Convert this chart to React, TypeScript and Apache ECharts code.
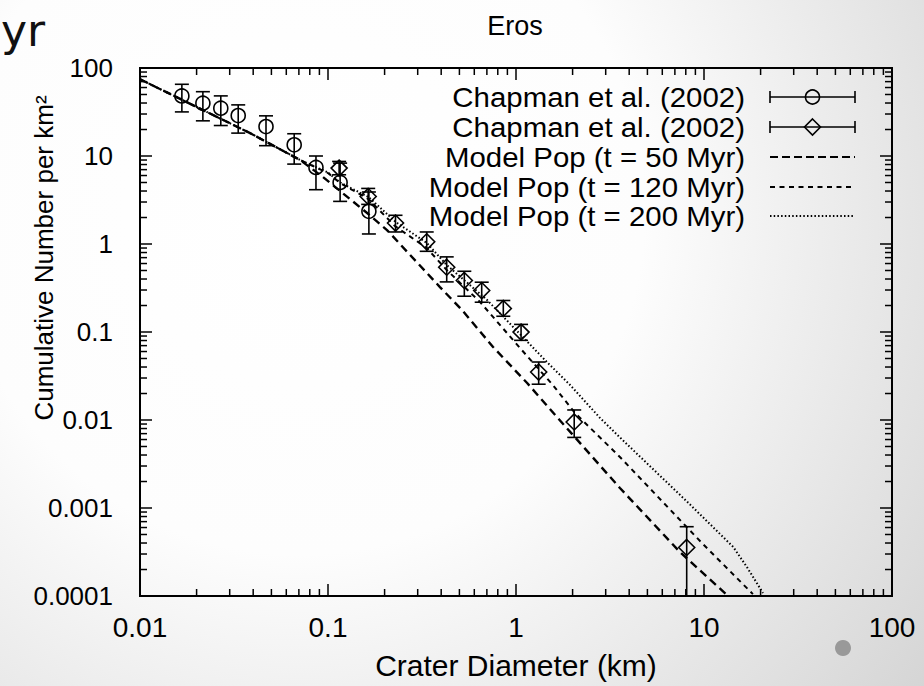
import { useEffect, useRef } from "react";
import * as echarts from "echarts";

// Axis ticks and labels
const xTickValues = [0.01, 0.1, 1, 10, 100];
const xTickLabels = ["0.01", "0.1", "1", "10", "100"];
const yTickValues = [0.0001, 0.001, 0.01, 0.1, 1, 10, 100];
const yTickLabels = ["0.0001", "0.001", "0.01", "0.1", "1", "10", "100"];
const minorMultipliers = [2, 3, 4, 5, 6, 7, 8, 9];

const titleText = "Eros";
const xAxisName = "Crater Diameter (km)";
const yAxisName = "Cumulative Number per km²";
const seriesNames = [
  "Chapman et al. (2002)",
  "Chapman et al. (2002)",
  "Model Pop (t = 50 Myr)",
  "Model Pop (t = 120 Myr)",
  "Model Pop (t = 200 Myr)",
];

// Chapman et al. (2002), small craters (circles)
const circleDiam = [0.0167, 0.0216, 0.0269, 0.0333, 0.0468, 0.0661, 0.0863, 0.116, 0.165];
const circleN = [48.2, 39.8, 34.9, 28.8, 21.6, 13.4, 7.41, 5.01, 2.35];
const circleLow = [31.7, 25.1, 22.2, 18.2, 13.1, 8.09, 4.14, 3.05, 1.3];
const circleHigh = [65.3, 53.8, 48.2, 38.1, 28.6, 17.9, 10.0, 8.3, 3.9];

// Chapman et al. (2002), larger craters (diamonds)
const diamondDiam = [0.1146, 0.1636, 0.2286, 0.335, 0.428, 0.531, 0.657, 0.856, 1.064, 1.32, 2.04, 8.09];
const diamondN = [7.29, 3.47, 1.73, 1.06, 0.545, 0.385, 0.296, 0.185, 0.0998, 0.0351, 0.0095, 0.000356];
const diamondLow = [6.12, 2.82, 1.37, 0.826, 0.371, 0.255, 0.218, 0.151, 0.0804, 0.0255, 0.00634, 0.0001];
const diamondHigh = [8.67, 4.28, 2.12, 1.37, 0.714, 0.49, 0.368, 0.228, 0.122, 0.0456, 0.013, 0.000613];

// Model populations
const model50Diam = [0.01, 0.0385, 0.071, 0.094, 0.116, 0.164, 0.206, 0.394, 0.516, 0.755, 1.146, 1.67, 3.57, 7.45, 13.1];
const model50N = [74.5, 18.2, 9.01, 5.77, 4.0, 2.19, 1.44, 0.324, 0.178, 0.0676, 0.0263, 0.01054, 0.001687, 0.000316, 0.000105];

const model120Diam = [0.01, 0.0385, 0.071, 0.1, 0.116, 0.164, 0.227, 0.335, 0.428, 0.644, 1.05, 1.57, 2.06, 3.57, 9.75, 18.2];
const model120N = [74.5, 18.2, 9.01, 6.4, 4.93, 3.24, 1.6, 0.9, 0.507, 0.219, 0.0658, 0.025, 0.012, 0.0038, 0.0004, 0.000105];

const model200Diam = [0.01, 0.0385, 0.071, 0.1, 0.116, 0.164, 0.229, 0.335, 0.428, 0.702, 1.46, 1.94, 2.8, 3.57, 8.13, 14.3, 16.9, 20.6];
const model200N = [74.5, 18.2, 9.01, 6.5, 5.0, 3.42, 1.78, 1.03, 0.577, 0.231, 0.0456, 0.025, 0.01054, 0.00634, 0.00118, 0.000361, 0.000214, 0.000108];

const X_MIN = 0.01;
const X_MAX = 100;
const Y_MIN = 0.0001;
const Y_MAX = 100;

const FONT = '"Liberation Sans", Arial, Helvetica, sans-serif';
const INK = "#000";

const labelFor = (values: number[], labels: string[]) => (v: number) => {
  const i = values.findIndex((t) => Math.abs(Math.log10(t) - Math.log10(v)) < 1e-6);
  return i >= 0 ? labels[i] : "";
};

export default function App() {
  const ref = useRef<HTMLDivElement>(null);

  useEffect(() => {
    if (!ref.current) return;
    const chart = echarts.init(ref.current, undefined, { renderer: "svg" });

    // tick rows: [x, y, axis (0 = x, 1 = y), major]
    const tickData: number[][] = [];
    xTickValues.forEach((v) => tickData.push([v, 1, 0, 1]));
    yTickValues.forEach((v) => tickData.push([1, v, 1, 1]));
    xTickValues.slice(0, -1).forEach((d) =>
      minorMultipliers.forEach((m) => tickData.push([d * m, 1, 0, 0]))
    );
    yTickValues.slice(0, -1).forEach((d) =>
      minorMultipliers.forEach((m) => tickData.push([1, d * m, 1, 0]))
    );

    const circleData = circleDiam.map((d, i) => [d, circleN[i], circleLow[i], circleHigh[i]]);
    const diamondData = diamondDiam.map((d, i) => [d, diamondN[i], diamondLow[i], diamondHigh[i]]);

    const strokeStyle = { stroke: INK, lineWidth: 1.6, fill: "none" };

    const errorBarRenderer = (shape: "circle" | "diamond") => (_p: any, api: any) => {
      const d = api.value(0);
      const c = api.coord([d, api.value(1)]);
      const lo = api.coord([d, api.value(2)]);
      const hi = api.coord([d, api.value(3)]);
      const cap = 7;
      const children: any[] = [
        { type: "line", shape: { x1: c[0], y1: lo[1], x2: c[0], y2: hi[1] }, style: strokeStyle },
        { type: "line", shape: { x1: c[0] - cap, y1: lo[1], x2: c[0] + cap, y2: lo[1] }, style: strokeStyle },
        { type: "line", shape: { x1: c[0] - cap, y1: hi[1], x2: c[0] + cap, y2: hi[1] }, style: strokeStyle },
      ];
      if (shape === "circle") {
        children.push({ type: "circle", shape: { cx: c[0], cy: c[1], r: 7 }, style: strokeStyle });
      } else {
        const s = 8;
        children.push({
          type: "polygon",
          shape: { points: [[c[0], c[1] - s], [c[0] + s, c[1]], [c[0], c[1] + s], [c[0] - s, c[1]]] },
          style: strokeStyle,
        });
      }
      return { type: "group", children };
    };

    const tickRenderer = (_p: any, api: any) => {
      const axis = api.value(2);
      const len = api.value(3) ? 12 : 7;
      const st = { stroke: INK, lineWidth: 1.5 };
      if (axis === 0) {
        const v = api.value(0);
        const b = api.coord([v, Y_MIN]);
        const t = api.coord([v, Y_MAX]);
        return {
          type: "group",
          children: [
            { type: "line", shape: { x1: b[0], y1: b[1], x2: b[0], y2: b[1] - len }, style: st },
            { type: "line", shape: { x1: t[0], y1: t[1], x2: t[0], y2: t[1] + len }, style: st },
          ],
        };
      }
      const v = api.value(1);
      const l = api.coord([X_MIN, v]);
      const r = api.coord([X_MAX, v]);
      return {
        type: "group",
        children: [
          { type: "line", shape: { x1: l[0], y1: l[1], x2: l[0] + len, y2: l[1] }, style: st },
          { type: "line", shape: { x1: r[0], y1: r[1], x2: r[0] - len, y2: r[1] }, style: st },
        ],
      };
    };

    const modelLine = (name: string, xs: number[], ys: number[], dash: number[], width: number) => ({
      name,
      type: "line",
      data: xs.map((x, i) => [x, ys[i]]),
      symbol: "none",
      smooth: false,
      lineStyle: { color: INK, width, type: dash },
      z: 3,
    });

    // legend, drawn at the top right of the plot
    const legendX = 745;
    const sampleL = 770;
    const sampleR = 855;
    const rowY = [97, 127, 157, 187, 216];
    const legendDash = [null, null, [8, 4], [5, 4.5], [1.5, 2.2]];
    const legendEls: any[] = [];
    seriesNames.forEach((name, i) => {
      const y = rowY[i];
      legendEls.push({
        type: "text",
        x: legendX,
        y,
        scaleX: 1.07,
        style: {
          text: name,
          font: `27.5px ${FONT}`,
          fill: INK,
          textAlign: "right",
          align: "right",
          textVerticalAlign: "middle",
          verticalAlign: "middle",
        },
      });
      if (i < 2) {
        legendEls.push(
          { type: "line", shape: { x1: sampleL, y1: y, x2: sampleR, y2: y }, style: strokeStyle },
          { type: "line", shape: { x1: sampleL, y1: y - 6, x2: sampleL, y2: y + 6 }, style: strokeStyle },
          { type: "line", shape: { x1: sampleR, y1: y - 6, x2: sampleR, y2: y + 6 }, style: strokeStyle }
        );
        const cx = (sampleL + sampleR) / 2;
        if (i === 0) {
          legendEls.push({ type: "circle", shape: { cx, cy: y, r: 7 }, style: strokeStyle });
        } else {
          legendEls.push({
            type: "polygon",
            shape: { points: [[cx, y - 8], [cx + 8, y], [cx, y + 8], [cx - 8, y]] },
            style: strokeStyle,
          });
        }
      } else {
        legendEls.push({
          type: "line",
          shape: { x1: sampleL, y1: y, x2: sampleR, y2: y },
          style: { stroke: INK, lineWidth: i === 2 ? 2.2 : 1.8, lineDash: legendDash[i] },
        });
      }
    });

    chart.setOption({
      animation: false,
      backgroundColor: new echarts.graphic.RadialGradient(
        300,
        210,
        820,
        [
          { offset: 0, color: "#ffffff" },
          { offset: 0.42, color: "#fdfdfd" },
          { offset: 1, color: "#d2d2d2" },
        ],
        true
      ),
      textStyle: { fontFamily: FONT, color: INK },
      title: {
        text: titleText,
        left: 510,
        top: 7,
        textAlign: "center",
        textStyle: { fontFamily: FONT, fontSize: 27, fontWeight: "normal", color: INK },
      },
      grid: {
        left: 140,
        right: 32,
        top: 68,
        bottom: 90,
        show: true,
        borderColor: INK,
        borderWidth: 2,
        backgroundColor: "transparent",
      },
      xAxis: {
        type: "log",
        logBase: 10,
        min: X_MIN,
        max: X_MAX,
        name: xAxisName,
        nameLocation: "middle",
        nameGap: 54,
        nameTextStyle: { fontFamily: FONT, fontSize: 30, color: INK },
        axisLine: { show: false },
        axisTick: { show: false },
        splitLine: { show: false },
        axisLabel: {
          formatter: labelFor(xTickValues, xTickLabels),
          fontFamily: FONT,
          fontSize: 28,
          color: INK,
          margin: 17,
          showMinLabel: true,
          showMaxLabel: true,
        },
      },
      yAxis: {
        type: "log",
        logBase: 10,
        min: Y_MIN,
        max: Y_MAX,
        axisLine: { show: false },
        axisTick: { show: false },
        splitLine: { show: false },
        axisLabel: {
          formatter: labelFor(yTickValues, yTickLabels),
          fontFamily: FONT,
          fontSize: 26,
          color: INK,
          margin: 27,
          showMinLabel: true,
          showMaxLabel: true,
        },
      },
      graphic: [
        {
          type: "text",
          x: 44,
          y: 258,
          rotation: Math.PI / 2,
          style: {
            text: yAxisName,
            font: `26px ${FONT}`,
            fill: INK,
            textAlign: "center",
            align: "center",
            textVerticalAlign: "middle",
            verticalAlign: "middle",
          },
        },
        {
          type: "text",
          x: 1,
          y: 30,
          style: {
            text: "yr",
            font: '44px "DejaVu Sans", sans-serif',
            fill: "#111",
            textVerticalAlign: "middle",
            verticalAlign: "middle",
          },
        },
        { type: "circle", shape: { cx: 843, cy: 648, r: 8 }, style: { fill: "#999999" } },
        ...legendEls,
      ],
      series: [
        {
          name: "ticks",
          type: "custom",
          data: tickData,
          encode: { x: 0, y: 1 },
          renderItem: tickRenderer,
          silent: true,
          z: 1,
        },
        modelLine(seriesNames[2], model50Diam, model50N, [8, 5], 2.4),
        modelLine(seriesNames[3], model120Diam, model120N, [5, 4.5], 2),
        modelLine(seriesNames[4], model200Diam, model200N, [1.5, 2.2], 2),
        {
          name: seriesNames[0],
          type: "custom",
          data: circleData,
          encode: { x: 0, y: 1 },
          renderItem: errorBarRenderer("circle"),
          z: 4,
        },
        {
          name: seriesNames[1],
          type: "custom",
          data: diamondData,
          encode: { x: 0, y: 1 },
          renderItem: errorBarRenderer("diamond"),
          z: 4,
        },
      ],
    });

    return () => chart.dispose();
  }, []);

  return (
    <div
      ref={ref}
      style={{ position: "absolute", left: 0, top: 0, width: 924, height: 686 }}
    />
  );
}
